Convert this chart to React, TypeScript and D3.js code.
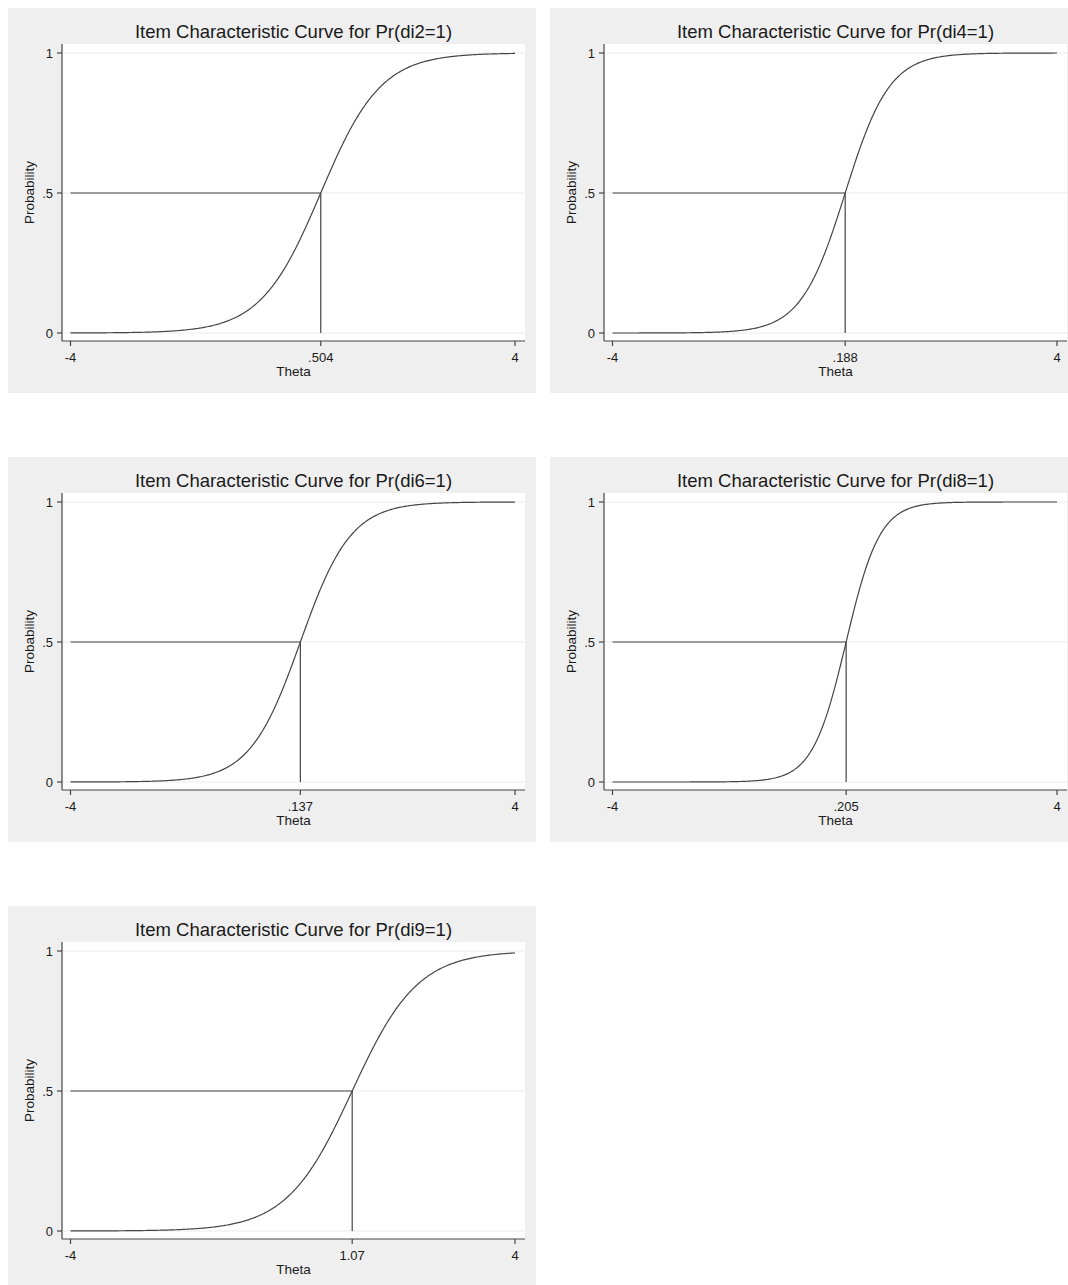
import React from "react";
import * as d3 from "d3";

// IRT 2PL item parameters
const items = ["di2", "di4", "di6", "di8", "di9"];
const difficulty = [0.504, 0.188, 0.137, 0.205, 1.07];
const discrimination = [1.85, 2.5, 2.2, 3.3, 1.7];

const thetaTicks = [-4, 4];
const probTicks = [0, 0.5, 1];
const probTickLabels = ["0", ".5", "1"];

const PANEL_W = 528;
const PANEL_H = 385;
const COL_STEP = 542;
const ROW_STEP = 449;

const plot = { left: 54, right: 517, top: 36, bottom: 333 };

const FONT = "'Liberation Sans', Arial, Helvetica, sans-serif";
const BG = "#efefef";
const GRID = "#ebebeb";
const INK = "#454545";
const TXT = "#1a1a1a";

const fmtB = (v: number) => d3.format(".3")(v).replace(/^0\./, ".").replace(/^-0\./, "-.");

function Panel({ idx }: { idx: number }) {
  const a = discrimination[idx];
  const b = difficulty[idx];
  const x = d3.scaleLinear().domain([-4, 4]).range([62.5, 507]);
  const y = d3.scaleLinear().domain([0, 1]).range([325, 45]);
  const grid = d3.range(-4, 4.0001, 0.02);
  const icc = (t: number) => 1 / (1 + Math.exp(-a * (t - b)));
  const line = d3
    .line<number>()
    .x((t) => x(t))
    .y((t) => y(icc(t)))
    .curve(d3.curveLinear);
  const xt = [thetaTicks[0], b, thetaTicks[1]];
  const cx = (plot.left + plot.right) / 2;
  const cy = (plot.top + plot.bottom) / 2;
  return (
    <g>
      <rect x={0} y={0} width={PANEL_W} height={PANEL_H} fill={BG} />
      <rect
        x={plot.left}
        y={plot.top}
        width={plot.right - plot.left}
        height={plot.bottom - plot.top}
        fill="#ffffff"
      />
      {probTicks.map((p) => (
        <line
          key={"g" + p}
          x1={plot.left}
          x2={plot.right}
          y1={y(p)}
          y2={y(p)}
          stroke={GRID}
          strokeWidth={1}
        />
      ))}
      <text
        x={cx}
        y={30}
        textAnchor="middle"
        fontFamily={FONT}
        fontSize={18.5}
        fill={TXT}
      >
        {`Item Characteristic Curve for Pr(${items[idx]}=1)`}
      </text>
      {/* reference lines at P = .5 */}
      <line x1={x(-4)} x2={x(b)} y1={y(0.5)} y2={y(0.5)} stroke={INK} strokeWidth={1.2} />
      <line x1={x(b)} x2={x(b)} y1={y(0)} y2={y(0.5)} stroke={INK} strokeWidth={1.2} />
      <path d={line(grid) || ""} fill="none" stroke={INK} strokeWidth={1.2} />
      {/* axes */}
      <line x1={plot.left} x2={plot.left} y1={plot.top} y2={plot.bottom} stroke={INK} strokeWidth={1.2} />
      <line x1={plot.left} x2={plot.right} y1={plot.bottom} y2={plot.bottom} stroke={INK} strokeWidth={1.2} />
      {probTicks.map((p, i) => (
        <g key={"yt" + p}>
          <line x1={plot.left - 5} x2={plot.left} y1={y(p)} y2={y(p)} stroke={INK} strokeWidth={1.2} />
          <text
            x={plot.left - 9}
            y={y(p)}
            dy="0.35em"
            textAnchor="end"
            fontFamily={FONT}
            fontSize={13}
            fill={TXT}
          >
            {probTickLabels[i]}
          </text>
        </g>
      ))}
      {xt.map((t, i) => (
        <g key={"xt" + i}>
          <line x1={x(t)} x2={x(t)} y1={plot.bottom} y2={plot.bottom + 5} stroke={INK} strokeWidth={1.2} />
          <text
            x={x(t)}
            y={353.5}
            textAnchor="middle"
            fontFamily={FONT}
            fontSize={13}
            fill={TXT}
          >
            {i === 1 ? fmtB(t) : String(t)}
          </text>
        </g>
      ))}
      <text x={cx} y={367.5} textAnchor="middle" fontFamily={FONT} fontSize={13.5} fill={TXT}>
        Theta
      </text>
      <text
        transform={`translate(26,${cy}) rotate(-90)`}
        textAnchor="middle"
        fontFamily={FONT}
        fontSize={13.5}
        fill={TXT}
      >
        Probability
      </text>
    </g>
  );
}

export default function App() {
  return (
    <div
      style={{
        position: "fixed",
        left: 0,
        top: 0,
        width: 1068,
        height: 1285,
        overflow: "hidden",
        background: "#ffffff",
      }}
    >
      <svg width={1068} height={1285} style={{ display: "block" }}>
        <g transform="translate(8,8)">
          {items.map((_, i) => (
            <g
              key={items[i]}
              transform={`translate(${(i % 2) * COL_STEP},${Math.floor(i / 2) * ROW_STEP})`}
            >
              <Panel idx={i} />
            </g>
          ))}
        </g>
      </svg>
    </div>
  );
}
